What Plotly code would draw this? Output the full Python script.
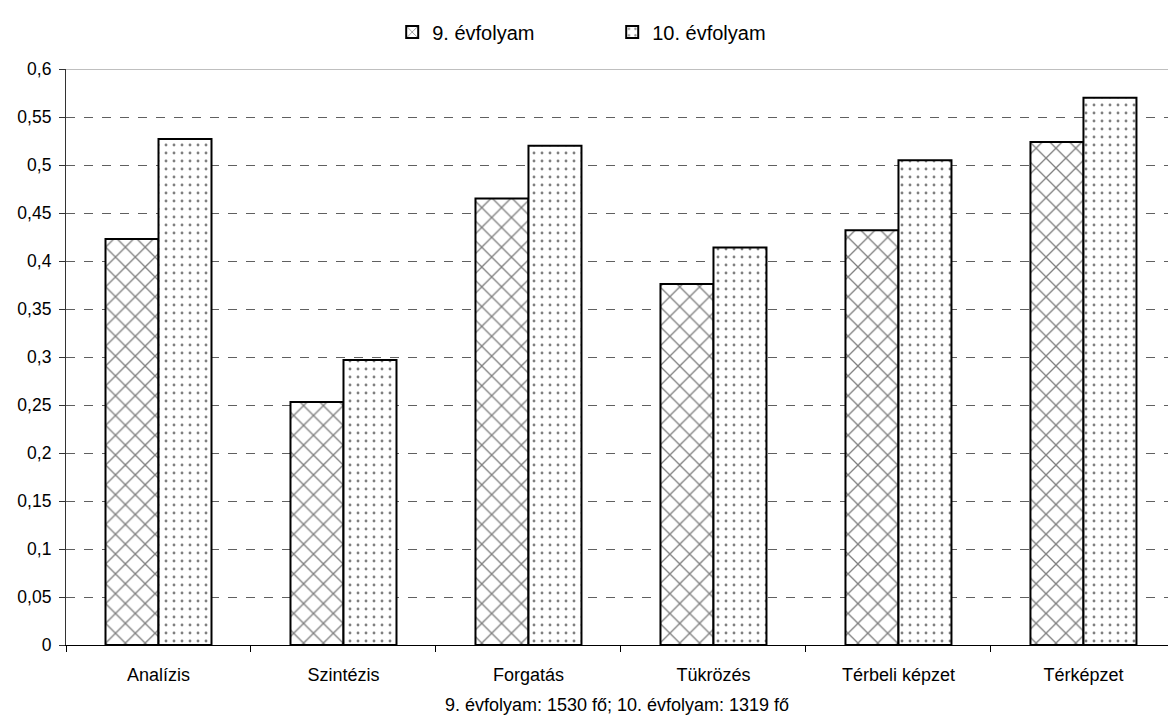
import plotly.graph_objects as go

categories = ["Analízis", "Szintézis", "Forgatás", "Tükrözés", "Térbeli képzet", "Térképzet"]
grade9 = [0.423, 0.253, 0.465, 0.376, 0.432, 0.524]
grade10 = [0.527, 0.297, 0.520, 0.414, 0.505, 0.570]
series_names = ["9. évfolyam", "10. évfolyam"]
y_ticks = [i * 0.05 for i in range(13)]
x_title = "9. évfolyam: 1530 fő; 10. évfolyam: 1319 fő"

FONT = "Liberation Sans, Arial, sans-serif"

fig = go.Figure()
fig.add_trace(go.Bar(
    x=categories, y=grade9, name=series_names[0],
    marker=dict(color="white", line=dict(color="black", width=2),
                pattern=dict(shape="x", size=14, solidity=0.18,
                             fgcolor="black", bgcolor="white")),
))
fig.add_trace(go.Bar(
    x=categories, y=grade10, name=series_names[1],
    marker=dict(color="white", line=dict(color="black", width=2),
                pattern=dict(shape=".", size=8, solidity=0.1,
                             fgcolor="black", bgcolor="white")),
))

# solid rule along the top of the value range
fig.add_shape(type="line", xref="paper", yref="y", x0=0, x1=1, y0=0.6, y1=0.6,
              line=dict(color="#808080", width=1))

fig.update_layout(
    width=1168, height=722,
    margin=dict(l=66, r=0, t=69, b=77, autoexpand=False),
    paper_bgcolor="white", plot_bgcolor="white",
    separators=", ",
    barmode="group", bargap=0.427, bargroupgap=0,
    font=dict(family=FONT, size=18, color="black"),
    legend=dict(orientation="h", x=0.296, xanchor="left",
                y=1.098, yanchor="top", font=dict(size=20),
                entrywidth=175, entrywidthmode="pixels",
                itemclick=False, bgcolor="rgba(0,0,0,0)"),
    showlegend=True,
)
fig.update_xaxes(
    type="category", range=[-0.5, 5.457],
    showline=True, linecolor="black", linewidth=1.2,
    ticks="outside", tickson="boundaries", ticklen=6, tickcolor="black",
    tickfont=dict(size=18), tickangle=0, ticklabelstandoff=13,
    title=dict(text=x_title, font=dict(size=18), standoff=14),
    showgrid=False, zeroline=False,
)
fig.update_yaxes(
    range=[0, 0.6], tickvals=y_ticks, tickformat="~r",
    showline=True, linecolor="#333333", linewidth=1.2,
    ticks="outside", ticklen=6, tickcolor="#333333",
    tickfont=dict(size=17.5), ticklabelstandoff=4,
    showgrid=True, gridcolor="#606060", griddash="dash", gridwidth=1,
    zeroline=False,
)

fig.write_html("out.html")
